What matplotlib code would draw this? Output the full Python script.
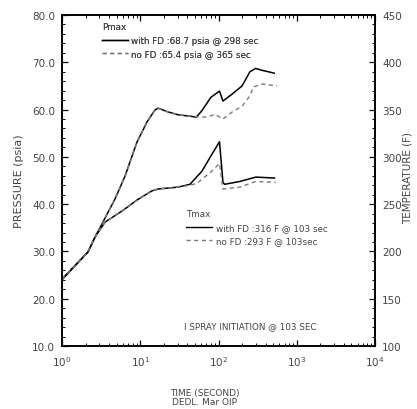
import matplotlib
matplotlib.use("Agg")
import matplotlib.pyplot as plt
from matplotlib.ticker import LogLocator, MultipleLocator, FormatStrFormatter, NullFormatter
from matplotlib.lines import Line2D

# ---- data ----
t_p_fd = [1, 2.15, 2.64, 4.76, 6.38, 9.07, 12.2, 15.4, 16.9, 22.7, 30.4, 43.2, 52, 61.6, 80, 103, 114, 150, 200, 252, 298, 360, 515]
p_fd   = [24.0, 29.9, 33.0, 41.1, 45.9, 53.1, 57.4, 59.9, 60.3, 59.5, 58.9, 58.6, 58.4, 59.8, 62.6, 63.9, 61.8, 63.3, 65.0, 68.0, 68.7, 68.3, 67.7]

t_p_nofd = [1, 2.15, 2.64, 4.76, 6.38, 9.07, 12.2, 15.4, 16.9, 22.7, 30.4, 43.2, 52, 72, 90, 114, 150, 200, 252, 280, 365, 560]
p_nofd   = [24.0, 29.9, 33.0, 41.1, 45.9, 53.1, 57.4, 59.9, 60.3, 59.5, 58.9, 58.6, 58.5, 58.4, 59.0, 58.0, 59.5, 60.7, 62.9, 64.8, 65.4, 65.0]

t_t_fd = [1, 2.15, 2.64, 3.55, 5.84, 9.35, 14.1, 16.9, 30.4, 43.2, 61.6, 80, 103, 114, 120, 188, 300, 520]
temp_fd = [170.8, 199.4, 215.2, 231, 242.7, 255, 264, 266, 268, 271, 285, 301, 316, 273, 271, 274, 278.6, 277.6]

t_t_nofd = [1, 2.15, 2.64, 3.55, 5.84, 9.35, 14.1, 16.9, 30.4, 43.2, 53, 80, 103, 114, 188, 300, 540]
temp_nofd = [170.8, 199.4, 215.2, 231, 242.7, 255, 264, 266, 268, 270, 272, 284, 293, 266, 268, 274, 273]

pmax_labels = ["with FD :68.7 psia @ 298 sec", "no FD :65.4 psia @ 365 sec"]
tmax_labels = ["with FD :316 F @ 103 sec", "no FD :293 F @ 103sec"]

txt = "#444444"
dash_col = "#7a7a7a"

fig = plt.figure(figsize=(4.17, 4.10), dpi=100)
ax = fig.add_axes([62/417, 63/410, (375-62)/417, (347-16)/410])
ax2 = ax.twinx()

ax.plot(t_p_fd, p_fd, color="black", lw=1.1)
ax.plot(t_p_nofd, p_nofd, color=dash_col, lw=1.0, ls=(0, (3, 2.5)))
ax2.plot(t_t_fd, temp_fd, color="black", lw=1.1)
ax2.plot(t_t_nofd, temp_nofd, color=dash_col, lw=1.0, ls=(0, (3, 2.5)))

ax.set_xscale("log")
ax.set_xlim(1, 1e4)
ax.set_ylim(10, 80)
ax2.set_ylim(100, 450)

ax.xaxis.set_major_locator(LogLocator(base=10, numticks=10))
ax.xaxis.set_minor_locator(LogLocator(base=10, subs=range(2, 10), numticks=10))
ax.xaxis.set_minor_formatter(NullFormatter())
ax.yaxis.set_major_locator(MultipleLocator(10))
ax.yaxis.set_minor_locator(MultipleLocator(2))
ax.yaxis.set_major_formatter(FormatStrFormatter("%.1f"))
ax2.yaxis.set_major_locator(MultipleLocator(50))
ax2.yaxis.set_minor_locator(MultipleLocator(10))

for a in (ax, ax2):
    a.tick_params(which="both", direction="in", colors="black", labelcolor=txt, labelsize=7.5)
    a.tick_params(which="major", length=4, width=0.9)
    a.tick_params(which="minor", length=2, width=0.7)
    for s in a.spines.values():
        s.set_linewidth(1.2)
ax.tick_params(axis="x", which="both", top=True, pad=6)
ax.tick_params(axis="y", pad=5)
ax2.tick_params(axis="y", pad=5)

ax.set_ylabel("PRESSURE (psia)", color=txt, fontsize=8, labelpad=6)

fig.text(0.978, (410-178)/410, "TEMPERATURE (F)", rotation=90, ha="center", va="center",
         color=txt, fontsize=7.5)
fig.text(205/417, (410-398)/410, "TIME (SECOND)\nDEDL. Mar OIP", ha="center", va="center",
         color=txt, fontsize=6.5, linespacing=1.1)

# legends
h_solid = Line2D([], [], color="black", lw=1.0)
h_dash = Line2D([], [], color=dash_col, lw=1.0, ls=(0, (3, 2.5)))
leg1 = ax.legend([h_solid, h_dash], pmax_labels, title="Pmax", loc="upper left",
                 bbox_to_anchor=(0.11, 0.995), frameon=False, fontsize=6.3,
                 title_fontsize=6.3, handlelength=3.0, handletextpad=0.4,
                 labelspacing=0.55, alignment="left", borderaxespad=0.2)
for tx in leg1.get_texts():
    tx.set_color(txt)
leg1.get_title().set_color(txt)
ax.add_artist(leg1)

leg2 = ax2.legend([h_solid, h_dash], tmax_labels, title="Tmax", loc="upper left",
                  bbox_to_anchor=(0.38, 0.43), frameon=False, fontsize=6.3,
                  title_fontsize=6.3, handlelength=3.0, handletextpad=0.4,
                  labelspacing=0.55, alignment="left", borderaxespad=0.2)
for tx in leg2.get_texts():
    tx.set_color(txt)
leg2.get_title().set_color(txt)

ax.text(0.60, 0.063, "I SPRAY INITIATION @ 103 SEC", transform=ax.transAxes,
        ha="center", va="center", color=txt, fontsize=6.3)

fig.savefig("out.png", dpi=100)
